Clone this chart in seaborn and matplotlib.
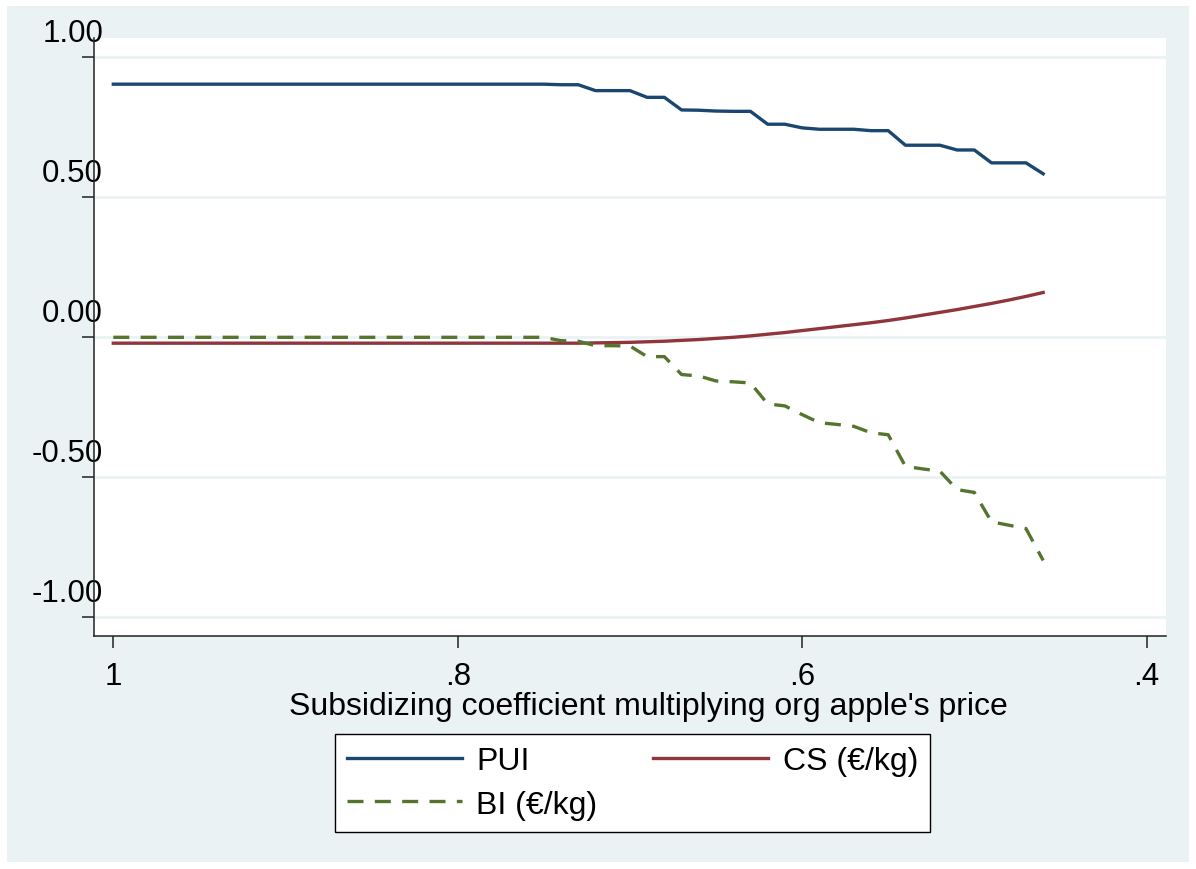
import numpy as np
import pandas as pd
import matplotlib
matplotlib.use("Agg")
import matplotlib.pyplot as plt
import matplotlib.transforms as mtransforms
from matplotlib.patches import Rectangle
import seaborn as sns

# ---------------- data ----------------
coef = [1.00, 0.99, 0.98, 0.97, 0.96, 0.95, 0.94, 0.93, 0.92, 0.91,
        0.90, 0.89, 0.88, 0.87, 0.86, 0.85, 0.84, 0.83, 0.82, 0.81,
        0.80, 0.79, 0.78, 0.77, 0.76, 0.75, 0.74, 0.73, 0.72, 0.71,
        0.70, 0.69, 0.68, 0.67, 0.66, 0.65, 0.64, 0.63, 0.62, 0.61,
        0.60, 0.59, 0.58, 0.57, 0.56, 0.55, 0.54, 0.53, 0.52, 0.51,
        0.50, 0.49, 0.48, 0.47, 0.46]

pui = [0.904] * 26 + [0.902, 0.902, 0.881, 0.881, 0.881, 0.857, 0.857,
       0.812, 0.811, 0.808, 0.807, 0.807, 0.761, 0.761, 0.748, 0.743,
       0.743, 0.743, 0.738, 0.738, 0.686, 0.686, 0.686, 0.669, 0.669,
       0.623, 0.623, 0.623, 0.584]

cs = [-0.021] * 28 + [-0.020, -0.019, -0.018, -0.016, -0.014, -0.011,
      -0.008, -0.004, 0.000, 0.005, 0.011, 0.017, 0.024, 0.031, 0.038,
      0.045, 0.052, 0.060, 0.069, 0.079, 0.089, 0.099, 0.110, 0.121,
      0.133, 0.146, 0.160]

bi = [0.000] * 26 + [-0.012, -0.014, -0.030, -0.030, -0.031, -0.069,
      -0.069, -0.133, -0.138, -0.156, -0.159, -0.163, -0.238, -0.245,
      -0.276, -0.305, -0.311, -0.318, -0.341, -0.348, -0.461, -0.470,
      -0.478, -0.544, -0.554, -0.659, -0.671, -0.683, -0.797]

series_names = ["PUI", "CS (€/kg)", "BI (€/kg)"]
xticks = [1.0, 0.8, 0.6, 0.4]
xtick_labels = ["1", ".8", ".6", ".4"]
yticks = [1.0, 0.5, 0.0, -0.5, -1.0]
ytick_labels = ["1.00", "0.50", "0.00", "-0.50", "-1.00"]
xlabel = "Subsidizing coefficient multiplying org apple's price"

df = pd.DataFrame({"coef": coef, "PUI": pui, "CS": cs, "BI": bi})

# ---------------- style ----------------
plt.rcParams["font.family"] = ["Liberation Sans", "DejaVu Sans"]
BG = "#EAF2F3"
NAVY = "#1a476f"
MAROON = "#90353b"
GREEN = "#55752f"

W, H = 1196, 870
fig = plt.figure(figsize=(W / 100, H / 100), dpi=100, facecolor="white")
fig.patches.append(Rectangle((7 / W, 7 / H), (W - 14) / W, (H - 14) / H,
                             transform=fig.transFigure, facecolor=BG,
                             edgecolor="none", zorder=-10))

left, right, top, bottom = 94.3, 1166, 39, 637
ax = fig.add_axes([left / W, 1 - bottom / H, (right - left) / W, (bottom - top) / H])
ax.set_facecolor("white")

lw = 2.4
sns.lineplot(data=df, x="coef", y="PUI", ax=ax, color=NAVY, lw=lw,
             label=series_names[0], sort=False)
sns.lineplot(data=df, x="coef", y="CS", ax=ax, color=MAROON, lw=lw,
             label=series_names[1], sort=False)
sns.lineplot(data=df, x="coef", y="BI", ax=ax, color=GREEN, lw=lw,
             linestyle=(0, (4.8, 3.4)), label=series_names[2], sort=False)

x0px, xscale = 113.3, 1722.0
y0px, yscale = 338.3, 280.0
ax.set_xlim(1 + (x0px - left) / xscale, 1 - (right - x0px) / xscale)
ax.set_ylim(-(bottom - y0px) / yscale, (y0px - top) / yscale)

ax.set_xticks(xticks)
ax.set_xticklabels(xtick_labels)
ax.set_yticks(yticks)
ax.set_yticklabels(ytick_labels)

for s in ["top", "right"]:
    ax.spines[s].set_visible(False)
for s in ["left", "bottom"]:
    ax.spines[s].set_color("#222222")
    ax.spines[s].set_linewidth(1.1)

ax.tick_params(axis="both", length=8.6, width=1.1, color="#222222",
               labelsize=22.5, labelcolor="black")
ax.tick_params(axis="y", pad=0)
ax.tick_params(axis="x", pad=9.5)

ax.yaxis.grid(True, color=BG, lw=2.0)
ax.xaxis.grid(False)
ax.set_axisbelow(True)

ax.set_xlabel(xlabel, fontsize=23, color="black")
ax.set_ylabel("")
ax.xaxis.set_label_coords((648.5 - left) / (right - left), -0.092)

offset = mtransforms.ScaledTranslation(0.207, 0.283, fig.dpi_scale_trans)
for lab in ax.get_yticklabels():
    lab.set_transform(lab.get_transform() + offset)

handles, labels = ax.get_legend_handles_labels()
order = [0, 2, 1]
leg = ax.legend([handles[i] for i in order], [labels[i] for i in order],
                ncol=2, loc="upper center",
                bbox_to_anchor=(632.5 / W, 1 - 735 / H),
                bbox_transform=fig.transFigure, borderaxespad=0,
                fontsize=23, handlelength=3.6, handletextpad=0.45,
                columnspacing=1.76, borderpad=0.38, labelspacing=0.42,
                fancybox=False, framealpha=1, edgecolor="black",
                facecolor="white")
leg.get_frame().set_linewidth(1.0)

fig.savefig("out.png", dpi=100, facecolor="white")
